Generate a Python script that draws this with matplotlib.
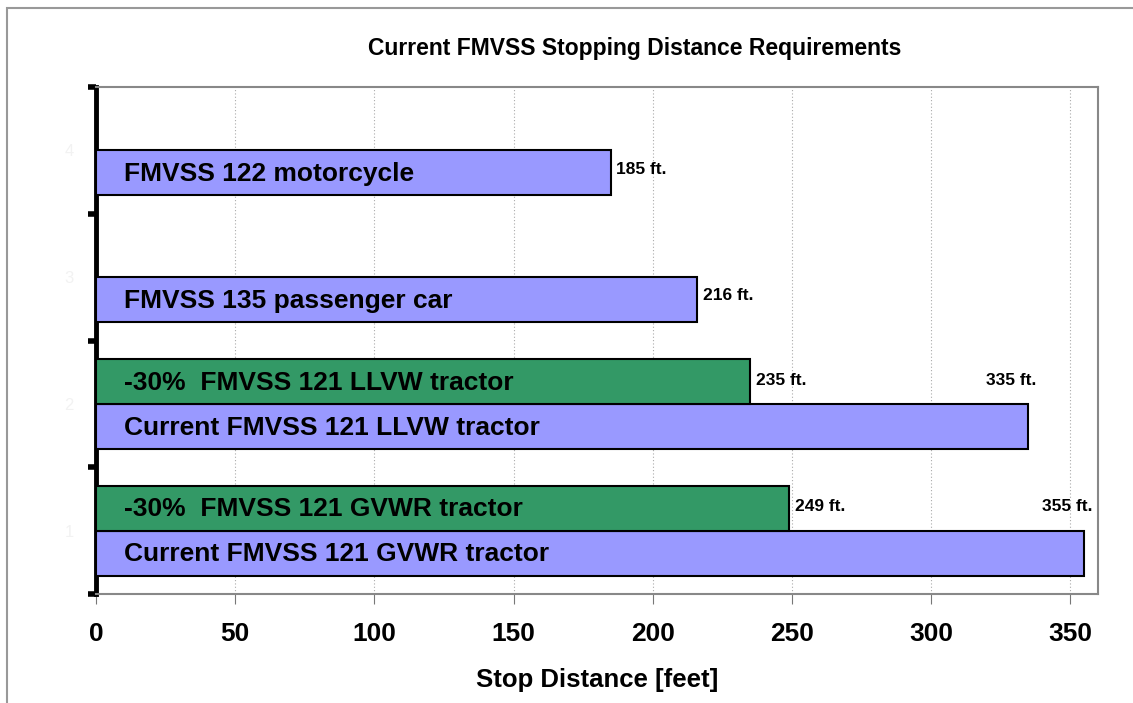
import matplotlib.pyplot as plt
from matplotlib.patches import Rectangle

plt.rcParams['font.family'] = ['Liberation Sans', 'DejaVu Sans']

# bottom to top
cats = ["GVWR", "LLVW", "car", "motorcycle"]
current = [355, 335, 216, 185]
reduced = [249, 235, None, None]
current_names = ["Current FMVSS 121 GVWR tractor", "Current FMVSS 121 LLVW tractor",
                 "FMVSS 135 passenger car", "FMVSS 122 motorcycle"]
reduced_names = ["-30%  FMVSS 121 GVWR tractor", "-30%  FMVSS 121 LLVW tractor", None, None]
xticks = [0, 50, 100, 150, 200, 250, 300, 350]

blue = "#9999ff"
green = "#339966"
h = 0.355

fig = plt.figure(figsize=(11.33, 7.03), dpi=100)
ax = fig.add_axes([96/1133, 1-594/703, (1098-96)/1133, (594-87)/703])

# outer chart border
fig.patches.append(Rectangle((7/1133, -0.1), 1.2, 1 - 8/703 + 0.1, transform=fig.transFigure,
                             fill=False, edgecolor="#999999", linewidth=1.5))

for i in range(len(cats)):
    yb = i - h/2
    ax.barh(yb, current[i], height=h, color=blue, edgecolor="black", linewidth=1.5, zorder=3)
    ax.text(10, yb - 0.01, current_names[i], ha="left", va="center", fontsize=19, fontweight="bold", zorder=4)
    if reduced[i] is not None:
        yg = i + h/2
        ax.barh(yg, reduced[i], height=h, color=green, edgecolor="black", linewidth=1.5, zorder=3)
        ax.text(10, yg - 0.01, reduced_names[i], ha="left", va="center", fontsize=19, fontweight="bold", zorder=4)
        ax.text(reduced[i] + 2, yg + 0.01, f"{reduced[i]} ft.", ha="left", va="center",
                fontsize=12.5, fontweight="bold", zorder=4)
        ax.text(current[i] + 3, yg + 0.01, f"{current[i]} ft.", ha="right", va="center",
                fontsize=12.5, fontweight="bold", zorder=4)
    else:
        ax.text(current[i] + 2, yb + 0.03, f"{current[i]} ft.", ha="left", va="center",
                fontsize=12.5, fontweight="bold", zorder=4)

ax.set_xlim(0, 360)
ax.set_ylim(-0.5, 3.5)
ax.set_xticks(xticks)
ax.set_xticklabels([str(t) for t in xticks], fontsize=19, fontweight="bold")
ax.tick_params(axis="x", direction="out", length=7, color="#777777", pad=13)
ax.set_yticks([-0.5, 0.5, 1.5, 2.5, 3.5], minor=False)
ax.set_yticklabels([])
ax.set_yticks([0, 1, 2, 3], minor=True)
ax.set_yticklabels(["1", "2", "3", "4"], minor=True, fontsize=12, color="#f2f2f2")
ax.tick_params(axis="y", which="major", direction="out", length=6, width=4, color="black")
ax.tick_params(axis="y", which="minor", length=0, pad=16)
ax.grid(axis="x", linestyle=(0, (1, 2)), color="#aaaaaa", linewidth=0.8, zorder=0)

for s in ["top", "right", "bottom"]:
    ax.spines[s].set_color("#888888")
    ax.spines[s].set_linewidth(1.5)
ax.spines["left"].set_color("black")
ax.spines["left"].set_linewidth(3.5)

ax.set_xlabel("Stop Distance [feet]", fontsize=18.5, fontweight="bold", labelpad=16)
fig.text(635/1133, 1-48/703, "Current FMVSS Stopping Distance Requirements",
         ha="center", va="center", fontsize=16.5, fontweight="bold")

fig.savefig("out.png", dpi=100)
